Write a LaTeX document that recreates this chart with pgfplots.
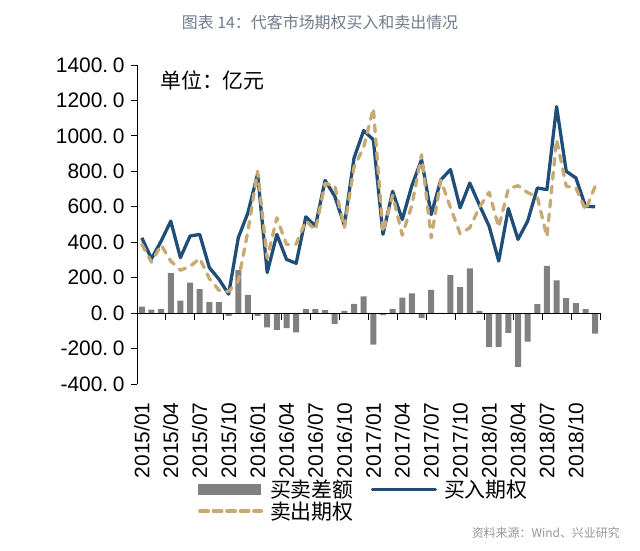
\documentclass[border=0pt]{standalone}
\usepackage{pgfplots}
\usepackage{pgfplotstable}
\pgfplotsset{compat=1.18}
\usepackage{fontspec}
\setmainfont{Liberation Sans}
\newfontfamily\cjk{Noto Sans CJK SC}
\definecolor{buyblue}{RGB}{31,78,121}
\definecolor{selltan}{RGB}{200,168,115}
\definecolor{bargray}{RGB}{128,128,128}
\definecolor{titlegray}{RGB}{112,122,138}
\definecolor{srcgray}{RGB}{150,150,150}

\pgfplotstableread{
i buy sell diff
0 425 388 37
1 307 288 19
2 406 384 22
3 519 294 225
4 313 242 71
5 435 263 172
6 444 309 135
7 257 195 62
8 191 129 62
9 107 122 -15
10 425 182 243
11 566 463 103
12 785 800 -15
13 229 310 -81
14 444 538 -94
15 303 387 -84
16 281 390 -109
17 543 521 22
18 491 469 22
19 749 732 17
20 660 720 -60
21 495 482 13
22 875 823 52
23 1030 936 94
24 978 1156 -178
25 445 456 -11
26 687 665 22
27 528 440 88
28 720 609 111
29 866 894 -28
30 556 425 131
31 752 750 2
32 810 595 215
33 594 448 146
34 734 481 253
35 610 597 13
36 491 682 -191
37 294 485 -191
38 590 702 -112
39 416 719 -303
40 519 680 -161
41 706 655 51
42 697 431 266
43 1165 980 185
44 800 716 84
45 763 707 56
46 603 581 22
47 600 716 -116
}\datatable

\begin{document}
\begin{tikzpicture}
\begin{axis}[
  scale only axis, width=463bp, height=319bp,
  xmin=-0.5, xmax=47.5, ymin=-400, ymax=1400,
  clip=false,
  axis x line*=bottom, axis y line*=left,
  x axis line style={draw=none},
  y axis line style={black, line width=0.9bp},
  xtick={0,3,...,45},
  xticklabels={2015/01,2015/04,2015/07,2015/10,2016/01,2016/04,2016/07,2016/10,2017/01,2017/04,2017/07,2017/10,2018/01,2018/04,2018/07,2018/10},
  xtick style={draw=none},
  xticklabel style={rotate=90, anchor=east, font=\fontsize{21}{21}\selectfont, xshift=-9bp},
  ytick={-400,-200,...,1400},
  yticklabels={-400.\hspace{0.22em}0,-200.\hspace{0.22em}0,0.\hspace{0.22em}0,200.\hspace{0.22em}0,400.\hspace{0.22em}0,600.\hspace{0.22em}0,800.\hspace{0.22em}0,1000.\hspace{0.22em}0,1200.\hspace{0.22em}0,1400.\hspace{0.22em}0},
  yticklabel style={font=\fontsize{21}{21}\selectfont, xshift=-3bp},
  ytick style={black, line width=0.9bp},
  tick align=outside, major tick length=6bp,
  legend columns=2,
  legend cell align=left,
  legend style={draw=none, fill=none, at={(0.125,-0.29)}, anchor=north west,
    font=\cjk\fontsize{21}{21}\selectfont, row sep=1bp,
    nodes={inner sep=1bp},
    /tikz/every odd column/.append style={column sep=6bp},
    /tikz/every even column/.append style={column sep=16bp}},
]
\addplot[ybar, bar width=6bp, fill=bargray, draw=none,
  legend image code/.code={\fill[bargray] (0bp,-5.5bp) rectangle (63bp,5.5bp);}]
  table[x=i, y=diff] {\datatable};
\addlegendentry{买卖差额}
\addplot[buyblue, line width=3.3bp, line join=round, mark=none,
  legend image code/.code={\draw[buyblue, line width=3.3bp, line cap=round] (0bp,0bp) -- (63bp,0bp);}]
  table[x=i, y=buy] {\datatable};
\addlegendentry{买入期权}
\addplot[selltan, line width=3.3bp, line join=round, line cap=round, dash pattern=on 7bp off 7bp, mark=none,
  legend image code/.code={\draw[selltan, line width=4bp, line cap=round, dash pattern=on 8bp off 5.5bp] (2bp,0bp) -- (63bp,0bp);}]
  table[x=i, y=sell] {\datatable};
\addlegendentry{卖出期权}
\coordinate (SW) at (rel axis cs:0,0);
\coordinate (NE) at (rel axis cs:1,1);
\end{axis}
\begin{axis}[
  scale only axis, width=463bp, height=319bp,
  xmin=-0.5, xmax=47.5, ymin=-400, ymax=1400,
  axis x line*=middle, axis y line=none,
  x axis line style={black, line width=0.9bp},
  xtick={2.5,5.5,...,47.5}, xticklabels={},
  xtick style={black, line width=0.9bp},
  tick align=outside, major tick length=7bp,
  ytick=\empty,
]
\addplot[draw=none, forget plot] coordinates {(0,0)};
\end{axis}
\node[anchor=center, text=titlegray, font=\cjk\fontsize{16}{16}\selectfont] at ([xshift=183bp,yshift=362bp]SW) {图表 14：代客市场期权买入和卖出情况};
\node[anchor=west, font=\cjk\fontsize{21}{21}\selectfont, inner sep=0pt] at ([xshift=23bp,yshift=304bp]SW) {单位：亿元};
\node[anchor=east, text=srcgray, font=\cjk\fontsize{12}{12}\selectfont, inner sep=0pt] at ([xshift=483bp,yshift=-149bp]SW) {资料来源：Wind、兴业研究};
\pgfresetboundingbox
\path ([xshift=-137bp,yshift=-166bp]SW) rectangle ([xshift=40bp,yshift=65bp]NE);
\end{tikzpicture}
\end{document}
